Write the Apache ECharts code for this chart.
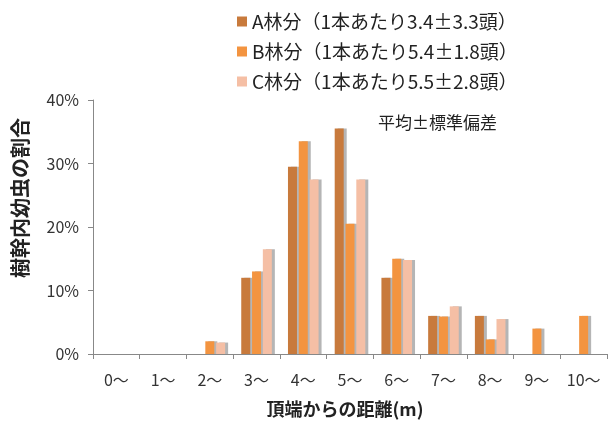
<!DOCTYPE html>
<html><head><meta charset="utf-8">
<script src="https://cdn.jsdelivr.net/npm/echarts@6/dist/echarts.min.js"></script>
<style>html,body{margin:0;padding:0;background:#fff}#c{width:611px;height:425px}</style>
</head><body><div id="c"></div>
<script>
const categories = ['0～','1～','2～','3～','4～','5～','6～','7～','8～','9～','10～'];
const seriesNames = ['A林分（1本あたり3.4±3.3頭）','B林分（1本あたり5.4±1.8頭）','C林分（1本あたり5.5±2.8頭）'];
const valuesA = [0, 0, 0, 12, 29.5, 35.5, 12, 6, 6, 0, 0];
const valuesB = [0, 0, 2.0, 13, 33.5, 20.5, 15, 5.9, 2.3, 4.0, 6.0];
const valuesC = [0, 0, 1.8, 16.5, 27.5, 27.5, 14.8, 7.5, 5.5, 0, 0];
const yTicks = [0, 10, 20, 30, 40];
const colors = ['#C87A3C', '#F39440', '#F5BFA5'];

const chart = echarts.init(document.getElementById('c'));
const font = "'Noto Sans CJK JP', 'Noto Sans', sans-serif";
const mk = (name, data, i) => ({
  name, type: 'bar', data, barWidth: 9, barGap: '20%',
  itemStyle: { color: colors[i], shadowColor: 'rgba(90,90,90,0.45)', shadowOffsetX: 3, shadowBlur: 0 }
});
chart.setOption({
  animation: false,
  textStyle: { fontFamily: font },
  legend: {
    orient: 'vertical', left: 232, top: 7, itemWidth: 10, itemHeight: 10, itemGap: 11,
    icon: 'rect',
    textStyle: { fontSize: 19, color: '#222', fontFamily: font },
    data: seriesNames
  },
  graphic: [{
    type: 'text', left: 378, top: 114,
    style: { text: '平均±標準偏差', fontSize: 17, fill: '#222', fontFamily: font }
  }, {
    type: 'text', x: 20, y: 198, rotation: Math.PI / 2,
    style: { text: '樹幹内幼虫の割合', fontSize: 20, fontWeight: 'bold', fill: '#222',
      fontFamily: font, align: 'center', verticalAlign: 'middle' }
  }],
  grid: { left: 93, right: 4, top: 100, bottom: 71 },
  xAxis: {
    type: 'category', data: categories,
    name: '頂端からの距離(m)', nameLocation: 'middle', nameGap: 46,
    nameTextStyle: { fontSize: 18, fontWeight: 'bold', color: '#222', fontFamily: font, padding: [0, 10, 0, 0] },
    axisLine: { lineStyle: { color: '#888' } },
    axisTick: { show: true, alignWithLabel: false, length: 5, lineStyle: { color: '#888' } },
    axisLabel: { fontSize: 16, color: '#333', margin: 18, interval: 0 }
  },
  yAxis: {
    type: 'value', min: 0, max: 40, interval: 10,
    splitLine: { show: false },
    axisLine: { show: true, lineStyle: { color: '#888' } },
    axisTick: { show: true, length: 5, lineStyle: { color: '#888' } },
    axisLabel: { fontSize: 16, color: '#333', margin: 14,
      formatter: v => yTicks.includes(v) ? v + '%' : '' }
  },
  series: [mk(seriesNames[0], valuesA, 0), mk(seriesNames[1], valuesB, 1), mk(seriesNames[2], valuesC, 2)]
});
</script></body></html>
